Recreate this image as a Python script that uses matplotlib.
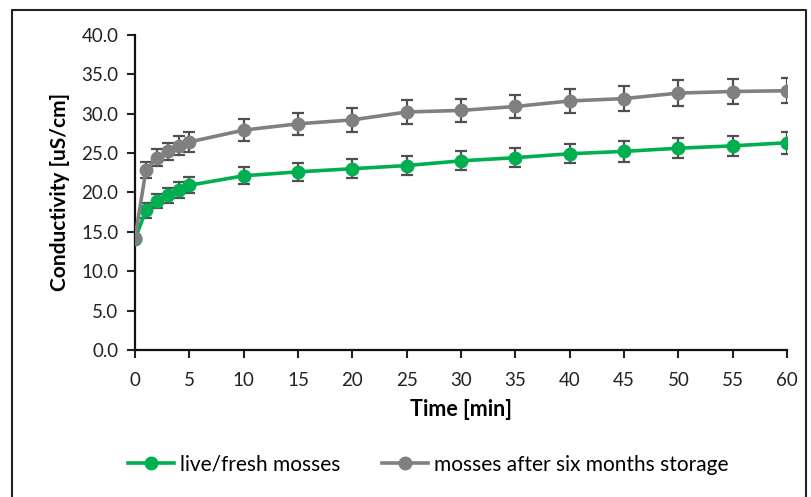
import matplotlib
matplotlib.use("Agg")
import matplotlib.pyplot as plt
from matplotlib.lines import Line2D

plt.rcParams['font.family'] = ['Lato', 'DejaVu Sans']

# conductivity readings over time
time_min = [0, 1, 2, 3, 4, 5, 10, 15, 20, 25, 30, 35, 40, 45, 50, 55, 60]
fresh = [14.1, 17.7, 18.9, 19.6, 20.3, 20.9, 22.1, 22.6, 23.0, 23.4, 24.0, 24.4, 24.9, 25.2, 25.6, 25.9, 26.3]
fresh_err = [0.4, 0.9, 0.9, 1.0, 1.0, 1.0, 1.1, 1.1, 1.2, 1.2, 1.2, 1.2, 1.2, 1.3, 1.3, 1.3, 1.4]
stored = [14.2, 22.8, 24.4, 25.2, 25.9, 26.4, 27.9, 28.7, 29.2, 30.2, 30.4, 30.9, 31.6, 31.9, 32.6, 32.8, 32.9]
stored_err = [0.4, 1.0, 1.1, 1.1, 1.2, 1.3, 1.4, 1.4, 1.5, 1.5, 1.5, 1.5, 1.5, 1.6, 1.6, 1.6, 1.6]

labels = ['live/fresh mosses', 'mosses after six months storage']
colors = ['#00B050', '#808080']
x_ticks = list(range(0, 61, 5))
y_ticks = [0, 5, 10, 15, 20, 25, 30, 35, 40]

fig = plt.figure(figsize=(8.11, 4.97), dpi=100)
ax = fig.add_axes([0.1665, 0.296, 0.804, 0.634])

for vals, errs, c, lab in [(fresh, fresh_err, colors[0], labels[0]),
                           (stored, stored_err, colors[1], labels[1])]:
    ax.errorbar(time_min, vals, yerr=errs, fmt='none', ecolor='#505050',
                elinewidth=1.6, capsize=4, capthick=1.6, zorder=2)
    ax.plot(time_min, vals, color=c, lw=2.6, marker='o', ms=9,
            label=lab, zorder=3)

ax.set_xlim(0, 60)
ax.set_ylim(0, 40)
ax.set_xticks(x_ticks)
ax.set_yticks(y_ticks)
ax.set_yticklabels([f'{v:.1f}' for v in y_ticks])
ax.tick_params(axis='both', labelsize=13.5, colors='#222222', width=1.5,
               length=6, direction='out')
ax.tick_params(axis='x', pad=10)
ax.tick_params(axis='y', pad=6)
for side in ['top', 'right']:
    ax.spines[side].set_visible(False)
for side in ['left', 'bottom']:
    ax.spines[side].set_linewidth(1.6)
    ax.spines[side].set_color('#111111')

ax.set_xlabel('Time [min]', fontsize=15.5, fontweight='bold', labelpad=7)
ax.set_ylabel('Conductivity [uS/cm]', fontsize=15, fontweight='bold', labelpad=8)

fig.legend(loc='center', bbox_to_anchor=(0.528, 0.065), ncol=2, frameon=False,
           fontsize=15, handlelength=2.2, columnspacing=2.0, handletextpad=0.3)

# chart frame
fx = [12 / 811, 12 / 811, 806 / 811, 806 / 811]
fy = [0.0, 1 - 10 / 497, 1 - 10 / 497, 0.0]
fig.add_artist(Line2D(fx, fy, transform=fig.transFigure, color='#222222', lw=1.5))

fig.savefig('out.png', dpi=100)
